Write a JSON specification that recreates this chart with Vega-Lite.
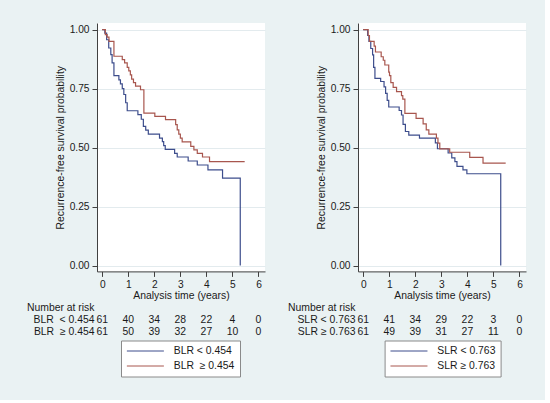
{
  "$schema": "https://vega.github.io/schema/vega-lite/v6.json",
  "background": "#eaf2f3",
  "padding": {"left": 26, "top": 23, "right": 19, "bottom": 23},
  "config": {
    "font": "Liberation Sans",
    "view": {"stroke": null},
    "axis": {
      "labelFont": "Liberation Sans",
      "titleFont": "Liberation Sans",
      "labelColor": "#1a1a1a",
      "titleColor": "#1a1a1a",
      "titleFontWeight": "normal",
      "domainColor": "#404040",
      "tickColor": "#404040",
      "labelFontSize": 10.2,
      "titleFontSize": 10.4
    },
    "legend": {"labelFont": "Liberation Sans"}
  },
  "datasets": {
    "km_blr": [
      {"group": "BLR < 0.454", "t": 0, "s": 1},
      {"group": "BLR < 0.454", "t": 0.1, "s": 0.985},
      {"group": "BLR < 0.454", "t": 0.17, "s": 0.957},
      {"group": "BLR < 0.454", "t": 0.25, "s": 0.922},
      {"group": "BLR < 0.454", "t": 0.33, "s": 0.894},
      {"group": "BLR < 0.454", "t": 0.38, "s": 0.859},
      {"group": "BLR < 0.454", "t": 0.45, "s": 0.805},
      {"group": "BLR < 0.454", "t": 0.64, "s": 0.787},
      {"group": "BLR < 0.454", "t": 0.7, "s": 0.77},
      {"group": "BLR < 0.454", "t": 0.77, "s": 0.75},
      {"group": "BLR < 0.454", "t": 0.83, "s": 0.725},
      {"group": "BLR < 0.454", "t": 0.9, "s": 0.69},
      {"group": "BLR < 0.454", "t": 0.96, "s": 0.656},
      {"group": "BLR < 0.454", "t": 1.37, "s": 0.64},
      {"group": "BLR < 0.454", "t": 1.5, "s": 0.62},
      {"group": "BLR < 0.454", "t": 1.58, "s": 0.59},
      {"group": "BLR < 0.454", "t": 1.67, "s": 0.574},
      {"group": "BLR < 0.454", "t": 1.77, "s": 0.557},
      {"group": "BLR < 0.454", "t": 2.2, "s": 0.54},
      {"group": "BLR < 0.454", "t": 2.31, "s": 0.525},
      {"group": "BLR < 0.454", "t": 2.36, "s": 0.508},
      {"group": "BLR < 0.454", "t": 2.42, "s": 0.492},
      {"group": "BLR < 0.454", "t": 2.78, "s": 0.475},
      {"group": "BLR < 0.454", "t": 2.88, "s": 0.46},
      {"group": "BLR < 0.454", "t": 3.3, "s": 0.443},
      {"group": "BLR < 0.454", "t": 3.65, "s": 0.426},
      {"group": "BLR < 0.454", "t": 4.06, "s": 0.405},
      {"group": "BLR < 0.454", "t": 4.62, "s": 0.37},
      {"group": "BLR < 0.454", "t": 5.3, "s": 0},
      {"group": "BLR\u00a0 ≥ 0.454", "t": 0, "s": 1},
      {"group": "BLR\u00a0 ≥ 0.454", "t": 0.12, "s": 0.979},
      {"group": "BLR\u00a0 ≥ 0.454", "t": 0.19, "s": 0.968},
      {"group": "BLR\u00a0 ≥ 0.454", "t": 0.26, "s": 0.95},
      {"group": "BLR\u00a0 ≥ 0.454", "t": 0.45, "s": 0.887},
      {"group": "BLR\u00a0 ≥ 0.454", "t": 0.77, "s": 0.873},
      {"group": "BLR\u00a0 ≥ 0.454", "t": 0.86, "s": 0.859},
      {"group": "BLR\u00a0 ≥ 0.454", "t": 0.96, "s": 0.84},
      {"group": "BLR\u00a0 ≥ 0.454", "t": 1.02, "s": 0.825},
      {"group": "BLR\u00a0 ≥ 0.454", "t": 1.08, "s": 0.808},
      {"group": "BLR\u00a0 ≥ 0.454", "t": 1.13, "s": 0.79},
      {"group": "BLR\u00a0 ≥ 0.454", "t": 1.2, "s": 0.775},
      {"group": "BLR\u00a0 ≥ 0.454", "t": 1.28, "s": 0.76},
      {"group": "BLR\u00a0 ≥ 0.454", "t": 1.47, "s": 0.745},
      {"group": "BLR\u00a0 ≥ 0.454", "t": 1.6, "s": 0.646},
      {"group": "BLR\u00a0 ≥ 0.454", "t": 2.02, "s": 0.632},
      {"group": "BLR\u00a0 ≥ 0.454", "t": 2.43, "s": 0.618},
      {"group": "BLR\u00a0 ≥ 0.454", "t": 2.82, "s": 0.597},
      {"group": "BLR\u00a0 ≥ 0.454", "t": 2.88, "s": 0.575},
      {"group": "BLR\u00a0 ≥ 0.454", "t": 2.94, "s": 0.557},
      {"group": "BLR\u00a0 ≥ 0.454", "t": 3.0, "s": 0.54},
      {"group": "BLR\u00a0 ≥ 0.454", "t": 3.07, "s": 0.524},
      {"group": "BLR\u00a0 ≥ 0.454", "t": 3.4, "s": 0.505},
      {"group": "BLR\u00a0 ≥ 0.454", "t": 3.52, "s": 0.49},
      {"group": "BLR\u00a0 ≥ 0.454", "t": 3.65, "s": 0.475},
      {"group": "BLR\u00a0 ≥ 0.454", "t": 3.85, "s": 0.46},
      {"group": "BLR\u00a0 ≥ 0.454", "t": 4.12, "s": 0.44},
      {"group": "BLR\u00a0 ≥ 0.454", "t": 5.47, "s": 0.44}
    ],
    "km_slr": [
      {"group": "SLR < 0.763", "t": 0, "s": 1},
      {"group": "SLR < 0.763", "t": 0.17, "s": 0.975},
      {"group": "SLR < 0.763", "t": 0.22, "s": 0.95},
      {"group": "SLR < 0.763", "t": 0.29, "s": 0.92},
      {"group": "SLR < 0.763", "t": 0.36, "s": 0.893},
      {"group": "SLR < 0.763", "t": 0.4, "s": 0.84},
      {"group": "SLR < 0.763", "t": 0.45, "s": 0.793},
      {"group": "SLR < 0.763", "t": 0.67, "s": 0.78},
      {"group": "SLR < 0.763", "t": 0.8, "s": 0.757},
      {"group": "SLR < 0.763", "t": 0.86, "s": 0.73},
      {"group": "SLR < 0.763", "t": 0.92, "s": 0.7},
      {"group": "SLR < 0.763", "t": 0.98, "s": 0.672},
      {"group": "SLR < 0.763", "t": 1.38, "s": 0.657},
      {"group": "SLR < 0.763", "t": 1.47, "s": 0.638},
      {"group": "SLR < 0.763", "t": 1.53, "s": 0.598},
      {"group": "SLR < 0.763", "t": 1.62, "s": 0.568},
      {"group": "SLR < 0.763", "t": 1.75, "s": 0.553},
      {"group": "SLR < 0.763", "t": 2.16, "s": 0.54},
      {"group": "SLR < 0.763", "t": 2.77, "s": 0.52},
      {"group": "SLR < 0.763", "t": 2.85, "s": 0.495},
      {"group": "SLR < 0.763", "t": 3.26, "s": 0.477},
      {"group": "SLR < 0.763", "t": 3.4, "s": 0.456},
      {"group": "SLR < 0.763", "t": 3.52, "s": 0.44},
      {"group": "SLR < 0.763", "t": 3.6, "s": 0.42},
      {"group": "SLR < 0.763", "t": 3.83, "s": 0.405},
      {"group": "SLR < 0.763", "t": 3.98, "s": 0.389},
      {"group": "SLR < 0.763", "t": 5.28, "s": 0},
      {"group": "SLR ≥ 0.763", "t": 0, "s": 1},
      {"group": "SLR ≥ 0.763", "t": 0.19, "s": 0.975},
      {"group": "SLR ≥ 0.763", "t": 0.24, "s": 0.95},
      {"group": "SLR ≥ 0.763", "t": 0.42, "s": 0.93},
      {"group": "SLR ≥ 0.763", "t": 0.47, "s": 0.905},
      {"group": "SLR ≥ 0.763", "t": 0.69, "s": 0.885},
      {"group": "SLR ≥ 0.763", "t": 0.77, "s": 0.87},
      {"group": "SLR ≥ 0.763", "t": 0.83, "s": 0.85},
      {"group": "SLR ≥ 0.763", "t": 0.98, "s": 0.82},
      {"group": "SLR ≥ 0.763", "t": 1.01, "s": 0.805},
      {"group": "SLR ≥ 0.763", "t": 1.06, "s": 0.775},
      {"group": "SLR ≥ 0.763", "t": 1.15, "s": 0.755},
      {"group": "SLR ≥ 0.763", "t": 1.28, "s": 0.737},
      {"group": "SLR ≥ 0.763", "t": 1.47, "s": 0.72},
      {"group": "SLR ≥ 0.763", "t": 1.52, "s": 0.705},
      {"group": "SLR ≥ 0.763", "t": 1.6, "s": 0.645},
      {"group": "SLR ≥ 0.763", "t": 2.03, "s": 0.624},
      {"group": "SLR ≥ 0.763", "t": 2.3, "s": 0.6},
      {"group": "SLR ≥ 0.763", "t": 2.42, "s": 0.575},
      {"group": "SLR ≥ 0.763", "t": 2.52, "s": 0.557},
      {"group": "SLR ≥ 0.763", "t": 2.81, "s": 0.54},
      {"group": "SLR ≥ 0.763", "t": 2.87, "s": 0.519},
      {"group": "SLR ≥ 0.763", "t": 2.94, "s": 0.494},
      {"group": "SLR ≥ 0.763", "t": 3.32, "s": 0.48},
      {"group": "SLR ≥ 0.763", "t": 4.09, "s": 0.458},
      {"group": "SLR ≥ 0.763", "t": 4.6, "s": 0.434},
      {"group": "SLR ≥ 0.763", "t": 5.47, "s": 0.434}
    ],
    "risk_blr": [
      {"row": "BLR\u00a0 < 0.454", "t": 0, "n": 61},
      {"row": "BLR\u00a0 < 0.454", "t": 1, "n": 40},
      {"row": "BLR\u00a0 < 0.454", "t": 2, "n": 34},
      {"row": "BLR\u00a0 < 0.454", "t": 3, "n": 28},
      {"row": "BLR\u00a0 < 0.454", "t": 4, "n": 22},
      {"row": "BLR\u00a0 < 0.454", "t": 5, "n": 4},
      {"row": "BLR\u00a0 < 0.454", "t": 6, "n": 0},
      {"row": "BLR\u00a0 ≥ 0.454", "t": 0, "n": 61},
      {"row": "BLR\u00a0 ≥ 0.454", "t": 1, "n": 50},
      {"row": "BLR\u00a0 ≥ 0.454", "t": 2, "n": 39},
      {"row": "BLR\u00a0 ≥ 0.454", "t": 3, "n": 32},
      {"row": "BLR\u00a0 ≥ 0.454", "t": 4, "n": 27},
      {"row": "BLR\u00a0 ≥ 0.454", "t": 5, "n": 10},
      {"row": "BLR\u00a0 ≥ 0.454", "t": 6, "n": 0}
    ],
    "risk_slr": [
      {"row": "SLR < 0.763", "t": 0, "n": 61},
      {"row": "SLR < 0.763", "t": 1, "n": 41},
      {"row": "SLR < 0.763", "t": 2, "n": 34},
      {"row": "SLR < 0.763", "t": 3, "n": 29},
      {"row": "SLR < 0.763", "t": 4, "n": 22},
      {"row": "SLR < 0.763", "t": 5, "n": 3},
      {"row": "SLR < 0.763", "t": 6, "n": 0},
      {"row": "SLR ≥ 0.763", "t": 0, "n": 61},
      {"row": "SLR ≥ 0.763", "t": 1, "n": 49},
      {"row": "SLR ≥ 0.763", "t": 2, "n": 39},
      {"row": "SLR ≥ 0.763", "t": 3, "n": 31},
      {"row": "SLR ≥ 0.763", "t": 4, "n": 27},
      {"row": "SLR ≥ 0.763", "t": 5, "n": 11},
      {"row": "SLR ≥ 0.763", "t": 6, "n": 0}
    ]
  },
  "spacing": 22,
  "resolve": {"scale": {"x": "independent", "y": "independent", "color": "independent"}, "legend": {"color": "independent"}},
  "hconcat": [
    {
      "spacing": 0,
      "resolve": {"scale": {"x": "independent", "y": "independent", "color": "independent"}, "legend": {"color": "independent"}},
      "vconcat": [
        {
          "width": 168,
          "height": 248.4,
          "view": {"fill": "white", "stroke": null},
          "data": {"name": "km_blr"},
          "mark": {"type": "line", "interpolate": "step-after", "strokeWidth": 1.2},
          "encoding": {
            "x": {"field": "t", "type": "quantitative",
              "scale": {"domain": [-0.2, 6.25], "nice": false, "zero": false},
              "axis": {"values": [0, 1, 2, 3, 4, 5, 6], "title": "Analysis time (years)", "grid": false, "tickSize": 5, "labelPadding": 3, "titlePadding": 1, "labelFlush": false}},
            "y": {"field": "s", "type": "quantitative",
              "scale": {"domain": [-0.025, 1.028], "nice": false, "zero": false},
              "axis": {"values": [0, 0.25, 0.5, 0.75, 1], "format": ".2f", "title": "Recurrence-free survival probability", "grid": true, "gridColor": "#e3ebee", "tickSize": 5, "labelPadding": 3, "titlePadding": 4}},
            "color": {"field": "group", "type": "nominal",
              "scale": {"domain": ["BLR < 0.454", "BLR\u00a0 ≥ 0.454"], "range": ["#3d4d8c", "#a8564e"]},
              "legend": null}
          }
        },
        {
          "width": 168,
          "height": 37,
          "data": {"name": "risk_blr"},
          "encoding": {
            "x": {"field": "t", "type": "quantitative",
              "scale": {"domain": [-0.2, 6.25], "nice": false, "zero": false}, "axis": null},
            "y": {"field": "row", "type": "nominal",
              "scale": {"type": "point", "padding": 0.5, "domain": ["Number at risk", "BLR\u00a0 < 0.454", "BLR\u00a0 ≥ 0.454"]},
              "axis": {"title": null, "domain": false, "ticks": false, "grid": false, "labelPadding": 3, "labelFontSize": 10.4}}
          },
          "layer": [
            {
              "mark": {"type": "text", "fontSize": 10.4, "color": "#1a1a1a", "font": "Liberation Sans"},
              "encoding": {"text": {"field": "n", "type": "quantitative"}}
            },
            {
              "transform": [{"filter": "false"}],
              "mark": {"type": "line", "strokeWidth": 1},
              "encoding": {
                "color": {"field": "row", "type": "nominal",
                  "scale": {"domain": ["BLR < 0.454", "BLR\u00a0 ≥ 0.454"], "range": ["#3d4d8c", "#a8564e"]},
                  "legend": {"title": null, "orient": "none", "legendX": 24, "legendY": 39.5, "symbolType": "M-1,0H7", "symbolSize": 85.6, "symbolStrokeWidth": 1, "labelOffset": 36.75, "padding": 5, "rowPadding": 4, "fillColor": "white", "strokeColor": "#8a8a8a", "labelFontSize": 10.4, "labelColor": "#1a1a1a"}}
              }
            }
          ]
        }
      ]
    },
    {
      "spacing": 0,
      "resolve": {"scale": {"x": "independent", "y": "independent", "color": "independent"}, "legend": {"color": "independent"}},
      "vconcat": [
        {
          "width": 168,
          "height": 248.4,
          "view": {"fill": "white", "stroke": null},
          "data": {"name": "km_slr"},
          "mark": {"type": "line", "interpolate": "step-after", "strokeWidth": 1.2},
          "encoding": {
            "x": {"field": "t", "type": "quantitative",
              "scale": {"domain": [-0.2, 6.25], "nice": false, "zero": false},
              "axis": {"values": [0, 1, 2, 3, 4, 5, 6], "title": "Analysis time (years)", "grid": false, "tickSize": 5, "labelPadding": 3, "titlePadding": 1, "labelFlush": false}},
            "y": {"field": "s", "type": "quantitative",
              "scale": {"domain": [-0.025, 1.028], "nice": false, "zero": false},
              "axis": {"values": [0, 0.25, 0.5, 0.75, 1], "format": ".2f", "title": "Recurrence-free survival probability", "grid": true, "gridColor": "#e3ebee", "tickSize": 5, "labelPadding": 3, "titlePadding": 4}},
            "color": {"field": "group", "type": "nominal",
              "scale": {"domain": ["SLR < 0.763", "SLR ≥ 0.763"], "range": ["#3d4d8c", "#a8564e"]},
              "legend": null}
          }
        },
        {
          "width": 168,
          "height": 37,
          "data": {"name": "risk_slr"},
          "encoding": {
            "x": {"field": "t", "type": "quantitative",
              "scale": {"domain": [-0.2, 6.25], "nice": false, "zero": false}, "axis": null},
            "y": {"field": "row", "type": "nominal",
              "scale": {"type": "point", "padding": 0.5, "domain": ["Number at risk", "SLR < 0.763", "SLR ≥ 0.763"]},
              "axis": {"title": null, "domain": false, "ticks": false, "grid": false, "labelPadding": 3, "labelFontSize": 10.4}}
          },
          "layer": [
            {
              "mark": {"type": "text", "fontSize": 10.4, "color": "#1a1a1a", "font": "Liberation Sans"},
              "encoding": {"text": {"field": "n", "type": "quantitative"}}
            },
            {
              "transform": [{"filter": "false"}],
              "mark": {"type": "line", "strokeWidth": 1},
              "encoding": {
                "color": {"field": "row", "type": "nominal",
                  "scale": {"domain": ["SLR < 0.763", "SLR ≥ 0.763"], "range": ["#3d4d8c", "#a8564e"]},
                  "legend": {"title": null, "orient": "none", "legendX": 26.6, "legendY": 39.5, "symbolType": "M-1,0H7", "symbolSize": 85.6, "symbolStrokeWidth": 1, "labelOffset": 36.75, "padding": 5, "rowPadding": 4, "fillColor": "white", "strokeColor": "#8a8a8a", "labelFontSize": 10.4, "labelColor": "#1a1a1a"}}
              }
            }
          ]
        }
      ]
    }
  ]
}
